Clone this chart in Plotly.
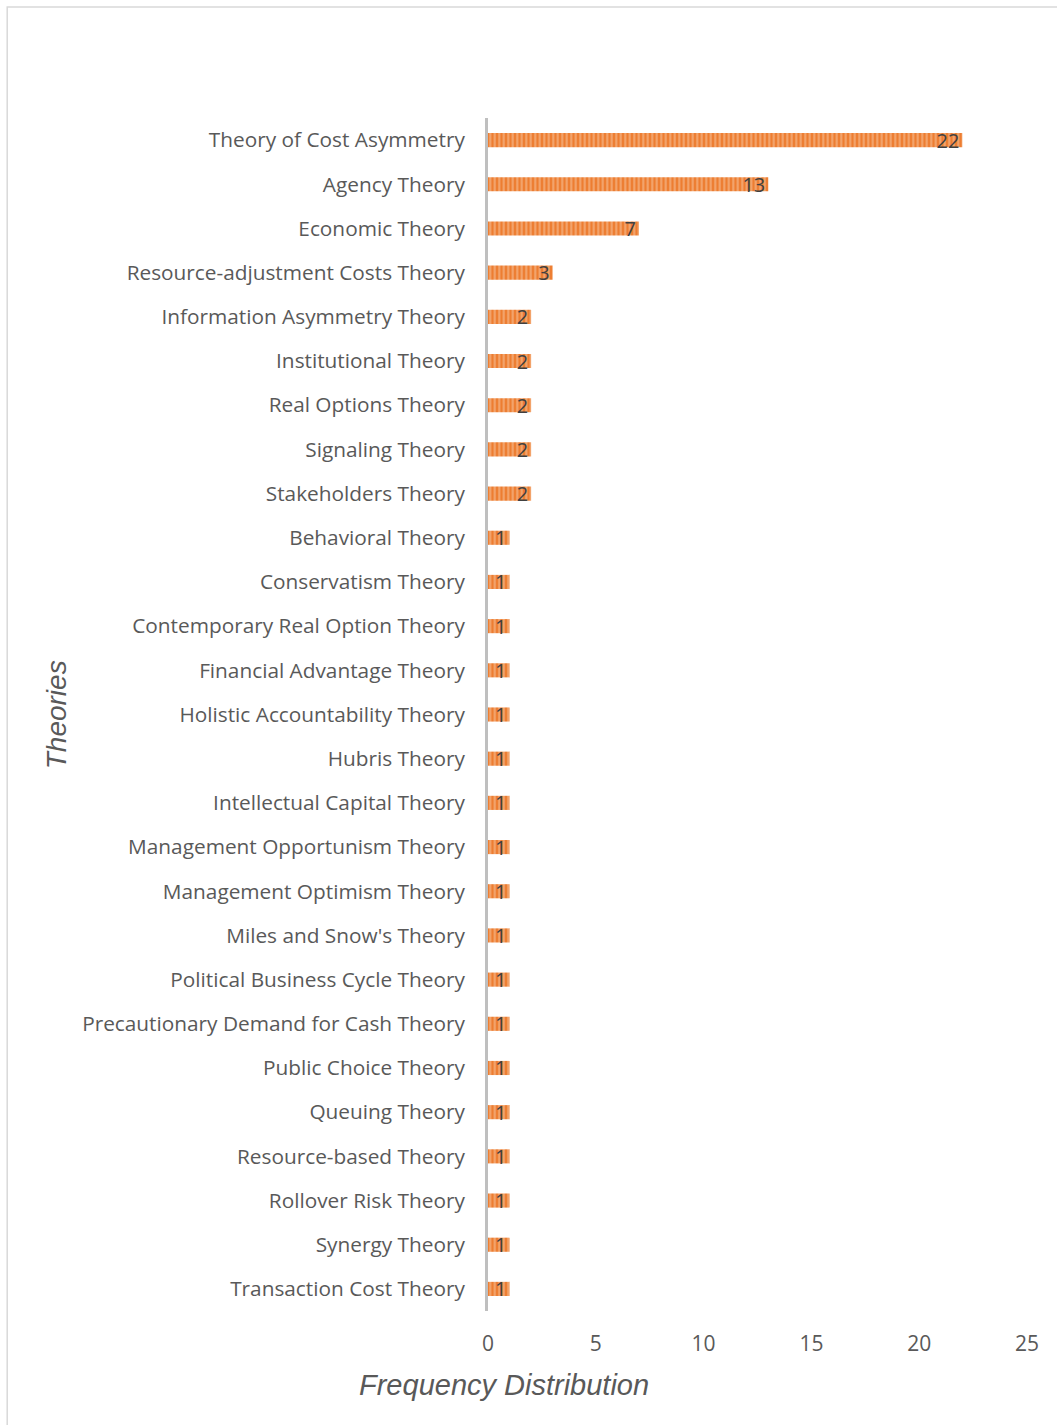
import plotly.graph_objects as go

theories = [
    "Theory of Cost Asymmetry", "Agency Theory", "Economic Theory",
    "Resource-adjustment Costs Theory", "Information Asymmetry Theory",
    "Institutional Theory", "Real Options Theory", "Signaling Theory",
    "Stakeholders Theory", "Behavioral Theory", "Conservatism Theory",
    "Contemporary Real Option Theory", "Financial Advantage Theory",
    "Holistic Accountability Theory", "Hubris Theory",
    "Intellectual Capital Theory", "Management Opportunism Theory",
    "Management Optimism Theory", "Miles and Snow's Theory",
    "Political Business Cycle Theory", "Precautionary Demand for Cash Theory",
    "Public Choice Theory", "Queuing Theory", "Resource-based Theory",
    "Rollover Risk Theory", "Synergy Theory", "Transaction Cost Theory",
]
frequency = [22, 13, 7, 3, 2, 2, 2, 2, 2, 1, 1, 1, 1, 1, 1, 1, 1, 1, 1, 1, 1, 1, 1, 1, 1, 1, 1]
x_ticks = [0, 5, 10, 15, 20, 25]

fig = go.Figure()
fig.add_trace(go.Bar(
    x=frequency, y=theories, orientation="h", width=0.32,
    marker=dict(color="#ED7D31", line=dict(width=0),
                pattern=dict(shape="|", fgcolor="#F9D2B4", size=4.5, solidity=0.45)),
    text=[str(v) for v in frequency], textposition="inside", textangle=0,
    insidetextanchor="end", constraintext="none",
    textfont=dict(family="Open Sans", size=20, color="#404040"),
    cliponaxis=False,
))

fig.update_layout(
    width=1057, height=1425,
    margin=dict(l=488, r=30, t=118, b=114),
    paper_bgcolor="white", plot_bgcolor="white",
    showlegend=False,
    font=dict(family="Open Sans", color="#595959"),
    xaxis=dict(range=[0, 25], tickvals=x_ticks, showgrid=False, zeroline=False,
               showline=False, ticks="outside", ticklen=14, tickcolor="rgba(0,0,0,0)",
               tickfont=dict(family="Open Sans", size=21, color="#595959")),
    yaxis=dict(autorange="reversed", showgrid=False, zeroline=False,
               showline=True, linecolor="#BFBFBF", linewidth=3,
               ticks="outside", ticklen=16, tickcolor="rgba(0,0,0,0)",
               tickfont=dict(family="Open Sans", size=20.8, color="#595959")),
    shapes=[dict(type="rect", xref="paper", yref="paper",
                 x0=-0.892, x1=1.2, y0=-0.2, y1=1.093,
                 line=dict(color="#D9D9D9", width=1.5), layer="below")],
    annotations=[
        dict(text="<i>Theories</i>", xref="paper", yref="paper",
             x=-0.8, y=0.5, textangle=-90, showarrow=False,
             xanchor="center", yanchor="middle",
             font=dict(family="Liberation Sans", size=28, color="#595959")),
        dict(text="<i>Frequency Distribution</i>", xref="paper", yref="paper",
             x=0.03, y=-0.062, showarrow=False,
             xanchor="center", yanchor="middle",
             font=dict(family="Liberation Sans", size=29, color="#595959")),
    ],
)

fig.write_html("out.html")
